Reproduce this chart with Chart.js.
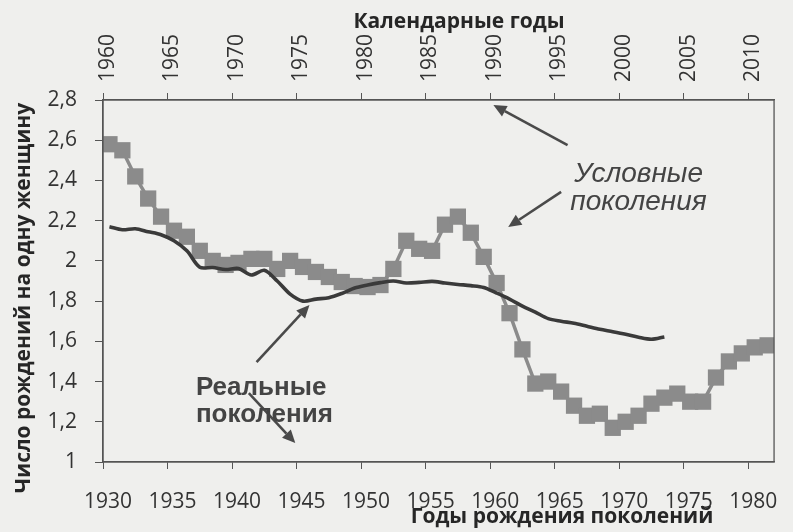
<!DOCTYPE html>
<html lang="ru">
<head>
<meta charset="utf-8">
<script src="https://cdn.jsdelivr.net/npm/chart.js@4.4.1/dist/chart.umd.min.js"></script>
<style>
  html, body { margin: 0; padding: 0; background: #efefed; }
  #wrap { width: 793px; height: 532px; position: relative; }
</style>
</head>
<body>
<div id="wrap"><canvas id="chart"></canvas></div>
<script>
// Реальные поколения: суммарная рождаемость по году рождения когорты
const cohortYears = [
  1930, 1931, 1932, 1933, 1934, 1935, 1936, 1937, 1938, 1939,
  1940, 1941, 1942, 1943, 1944, 1945, 1946, 1947, 1948, 1949,
  1950, 1951, 1952, 1953, 1954, 1955, 1956, 1957, 1958, 1959,
  1960, 1961, 1962, 1963, 1964, 1965, 1966, 1967, 1968, 1969,
  1970, 1971, 1972, 1973,
];
const cohortTfr = [
  2.17, 2.155, 2.16, 2.145, 2.13, 2.10, 2.05, 1.968, 1.967, 1.957,
  1.962, 1.93, 1.953, 1.90, 1.835, 1.80, 1.81, 1.817, 1.838, 1.865,
  1.88, 1.892, 1.90, 1.89, 1.893, 1.898, 1.89, 1.883, 1.877, 1.868,
  1.84, 1.81, 1.775, 1.745, 1.713, 1.70, 1.69, 1.675, 1.66, 1.648,
  1.635, 1.62, 1.61, 1.622,
];

// Условные поколения: коэффициент суммарной рождаемости по календарным годам
const calendarYears = [
  1960, 1961, 1962, 1963, 1964, 1965, 1966, 1967, 1968, 1969,
  1970, 1971, 1972, 1973, 1974, 1975, 1976, 1977, 1978, 1979,
  1980, 1981, 1982, 1983, 1984, 1985, 1986, 1987, 1988, 1989,
  1990, 1991, 1992, 1993, 1994, 1995, 1996, 1997, 1998, 1999,
  2000, 2001, 2002, 2003, 2004, 2005, 2006, 2007, 2008, 2009,
  2010, 2011,
];
const periodTfr = [
  2.58, 2.55, 2.42, 2.31, 2.22, 2.15, 2.12, 2.05, 2.00, 1.98,
  1.99, 2.01, 2.01, 1.96, 2.00, 1.97, 1.945, 1.92, 1.895, 1.875,
  1.87, 1.88, 1.96, 2.10, 2.06, 2.05, 2.18, 2.22, 2.14, 2.02,
  1.89, 1.74, 1.56, 1.39, 1.40, 1.35, 1.28, 1.23, 1.24, 1.17,
  1.20, 1.23, 1.29, 1.32, 1.34, 1.30, 1.30, 1.42, 1.50, 1.54,
  1.57, 1.58,
];

const cohortRange = [1930, 1982];
const calendarRange = [1960, 2012];
const valueRange = [1, 2.8];

const axisTitleY = 'Число рождений на одну женщину';
const axisTitleTop = 'Календарные годы';
const axisTitleBottom = 'Годы рождения поколений';

// подписи-стрелки: [год когорты, значение]
const labelPeriod = ['Условные', 'поколения'];
const labelCohort = ['Реальные', 'поколения'];
const arrowsPeriod = [
  [[1966.0, 2.576], [1960.25, 2.775]],
  [[1965.5, 2.343], [1961.4, 2.169]],
];
const arrowsCohort = [
  [[1941.9, 1.497], [1946.0, 1.781]],
  [[1941.3, 1.343], [1944.9, 1.094]],
];

const ink = '#3a3a3a';
const axisColor = '#555';
const squareGray = '#8b8b8b';
// точки в Excel стоят посередине категории
const CAT_OFFSET = 0.5;

function drawArrow(ctx, x1, y1, x2, y2) {
  const a = Math.atan2(y2 - y1, x2 - x1);
  const len = 13;
  const half = 6;
  const bx = x2 - len * Math.cos(a);
  const by = y2 - len * Math.sin(a);
  ctx.beginPath();
  ctx.moveTo(x1, y1);
  ctx.lineTo(bx, by);
  ctx.stroke();
  ctx.beginPath();
  ctx.moveTo(x2, y2);
  ctx.lineTo(bx - half * Math.sin(a), by + half * Math.cos(a));
  ctx.lineTo(bx + half * Math.sin(a), by - half * Math.cos(a));
  ctx.closePath();
  ctx.fill();
}

const decorations = {
  id: 'decorations',
  afterDatasetsDraw(chart) {
    const { ctx, chartArea: ca, scales } = chart;
    const px = (v) => scales.x.getPixelForValue(v);
    const py = (v) => scales.y.getPixelForValue(v);
    ctx.save();

    // рамка области построения
    ctx.strokeStyle = axisColor;
    ctx.lineWidth = 1.3;
    ctx.strokeRect(ca.left, ca.top, ca.right - ca.left, ca.bottom - ca.top);

    // стрелки
    ctx.strokeStyle = '#4a4a4a';
    ctx.fillStyle = '#4a4a4a';
    ctx.lineWidth = 2.6;
    [...arrowsPeriod, ...arrowsCohort].forEach(([from, to]) => {
      drawArrow(ctx, px(from[0]), py(from[1]), px(to[0]), py(to[1]));
    });

    // подписи рядов
    ctx.fillStyle = '#444';
    ctx.textBaseline = 'alphabetic';
    ctx.textAlign = 'center';
    ctx.font = 'italic 28px "Liberation Sans", Arial, sans-serif';
    ctx.fillText(labelPeriod[0], px(1971.5), py(2.392));
    ctx.fillText(labelPeriod[1], px(1971.5), py(2.253));

    ctx.textAlign = 'left';
    ctx.font = 'bold 26px "Liberation Sans", Arial, sans-serif';
    ctx.fillText(labelCohort[0], px(1937.2), py(1.333));
    ctx.fillText(labelCohort[1], px(1937.2), py(1.199));
    ctx.restore();
  },
  afterDraw(chart) {
    const { ctx } = chart;
    ctx.save();
    ctx.fillStyle = '#262626';
    ctx.font = 'bold 21px "Open Sans", sans-serif';
    ctx.textAlign = 'center';
    ctx.textBaseline = 'alphabetic';
    ctx.fillText(axisTitleTop, 459, 28);
    ctx.fillText(axisTitleBottom, 562, 523);
    ctx.translate(24, 298);
    ctx.rotate(-Math.PI / 2);
    ctx.textBaseline = 'middle';
    ctx.fillText(axisTitleY, 0, 0);
    ctx.restore();
  },
};

const tickFont = { family: 'Open Sans', size: 21 };

new Chart(document.getElementById('chart'), {
  type: 'line',
  data: {
    datasets: [
      {
        label: 'Реальные поколения',
        data: cohortYears.map((yr, i) => ({ x: yr + CAT_OFFSET, y: cohortTfr[i] })),
        xAxisID: 'x',
        borderColor: ink,
        borderWidth: 3.6,
        pointRadius: 0,
        tension: 0.3,
      },
      {
        label: 'Условные поколения',
        data: calendarYears.map((yr, i) => ({ x: yr + CAT_OFFSET, y: periodTfr[i] })),
        xAxisID: 'x2',
        borderColor: squareGray,
        borderWidth: 3.5,
        pointStyle: 'rect',
        pointRadius: 11.5,
        pointBackgroundColor: squareGray,
        pointBorderWidth: 0,
        tension: 0,
      },
    ],
  },
  options: {
    responsive: true,
    maintainAspectRatio: false,
    animation: false,
    layout: { padding: { left: 0, right: 11, top: 0, bottom: 0 } },
    plugins: { legend: { display: false }, tooltip: { enabled: false } },
    scales: {
      x: {
        type: 'linear',
        position: 'bottom',
        min: cohortRange[0],
        max: cohortRange[1],
        afterFit: (s) => { s.height = 70; },
        grid: { drawOnChartArea: false, tickLength: 7, color: axisColor },
        border: { color: axisColor, width: 1.3 },
        ticks: {
          stepSize: 5,
          includeBounds: false,
          maxRotation: 0,
          autoSkip: false,
          padding: 20,
          labelOffset: 5,
          color: '#333',
          font: tickFont,
          callback: (v) => String(v),
        },
      },
      x2: {
        type: 'linear',
        position: 'top',
        min: calendarRange[0],
        max: calendarRange[1],
        afterFit: (s) => { s.height = 100; },
        grid: { drawOnChartArea: false, tickLength: 7, color: axisColor },
        border: { color: axisColor, width: 1.3 },
        ticks: {
          stepSize: 5,
          includeBounds: false,
          minRotation: 90,
          maxRotation: 90,
          autoSkip: false,
          padding: 11,
          labelOffset: 30,
          color: '#333',
          font: tickFont,
          callback: (v) => String(v),
        },
      },
      y: {
        min: valueRange[0],
        max: valueRange[1],
        afterFit: (s) => { s.width = 103; },
        grid: { drawOnChartArea: false, tickLength: 8, color: axisColor },
        border: { color: axisColor, width: 1.3 },
        ticks: {
          stepSize: 0.2,
          padding: 18,
          color: '#333',
          font: tickFont,
          callback: (v) => String(Math.round(v * 10) / 10).replace('.', ','),
        },
      },
    },
  },
  plugins: [decorations],
});
</script>
</body>
</html>
